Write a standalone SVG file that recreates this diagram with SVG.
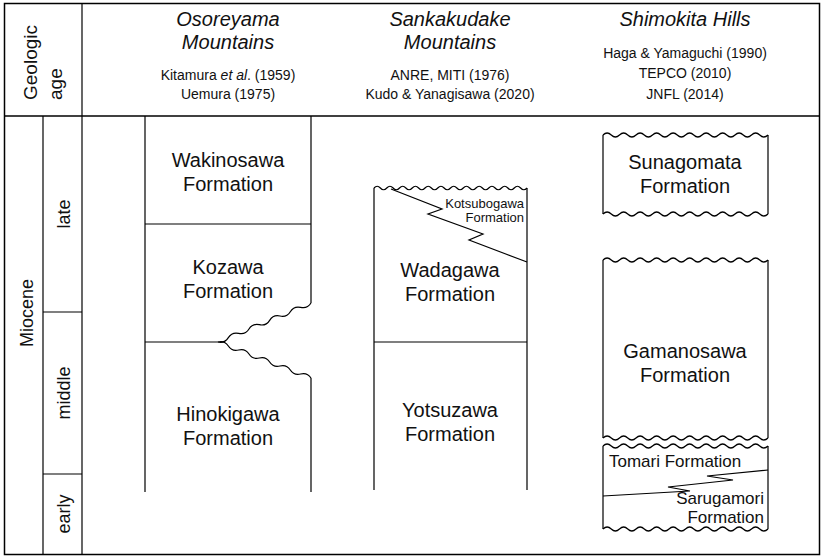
<svg xmlns="http://www.w3.org/2000/svg" width="822" height="559" viewBox="0 0 822 559">
<style>
.ln{stroke:#000;stroke-width:1.2;fill:none}
.fr{stroke:#000;stroke-width:1.5;fill:none}
text{font-family:"Liberation Sans",Arial,sans-serif;fill:#111}
.t{font-size:20px;text-anchor:middle}
.h{font-size:20px;font-style:italic;text-anchor:middle}
.r{font-size:14px;text-anchor:middle}
.s{font-size:17px}
.a{font-size:18px;text-anchor:middle}
</style>
<rect width="822" height="559" fill="#fff"/>
<g id="table">
<rect class="fr" x="4.5" y="3.5" width="815" height="551"/>
<line class="fr" x1="4.5" y1="116" x2="819.5" y2="116"/>
<line class="ln" x1="82" y1="3.5" x2="82" y2="554.5"/>
<line class="ln" x1="43" y1="116" x2="43" y2="554.5"/>
<line class="ln" x1="43" y1="312" x2="82" y2="312"/>
<line class="ln" x1="43" y1="474" x2="82" y2="474"/>
<text font-size="19" transform="translate(37,100) rotate(-90)">Geologic</text>
<text font-size="19" transform="translate(62,100) rotate(-90)">age</text>
<text class="a" transform="translate(33,313) rotate(-90)">Miocene</text>
<text class="a" transform="translate(70,214) rotate(-90)">late</text>
<text class="a" transform="translate(70,393) rotate(-90)">middle</text>
<text class="a" transform="translate(70,514) rotate(-90)">early</text>
</g>
<g id="header-osoreyama">
<text class="h" x="228" y="26">Osoreyama</text>
<text class="h" x="228" y="49">Mountains</text>
<text class="r" x="228" y="80">Kitamura <tspan font-style="italic">et al</tspan>. (1959)</text>
<text class="r" x="228" y="99">Uemura (1975)</text>
</g>
<g id="header-sankakudake">
<text class="h" x="450" y="26">Sankakudake</text>
<text class="h" x="450" y="49">Mountains</text>
<text class="r" x="450" y="80">ANRE, MITI (1976)</text>
<text class="r" x="450" y="99">Kudo &amp; Yanagisawa (2020)</text>
</g>
<g id="header-shimokita">
<text class="h" x="685" y="26">Shimokita Hills</text>
<text class="r" x="685" y="58">Haga &amp; Yamaguchi (1990)</text>
<text class="r" x="685" y="78">TEPCO (2010)</text>
<text class="r" x="685" y="99">JNFL (2014)</text>
</g>
<g id="connectors">
<!-- column 1 -->
<path class="ln" d="M145 116 V492 M311 116 V303 M311 378 V492 M145 224 H311 M145 342 H218"/>
<path class="ln" d="M218 342 q6.72 1.52 10.33 -4.33 t10.33 -4.33 t10.33 -4.33 t10.33 -4.33 t10.33 -4.33 t10.33 -4.33 t10.33 -4.33 t10.33 -4.33 t10.33 -4.33"/>
<path class="ln" d="M218 342 q6.61 -1.73 10.33 4 t10.33 4 t10.33 4 t10.33 4 t10.33 4 t10.33 4 t10.33 4 t10.33 4 t10.33 4"/>
<!-- column 2 -->
<path class="ln" d="M374 188 V490 M527 188 V490 M374 342 H527"/>
<path class="ln" d="M374 188 q3.19 -3.5 6.375 0 t6.375 0 t6.375 0 t6.375 0 t6.375 0 t6.375 0 t6.375 0 t6.375 0 t6.375 0 t6.375 0 t6.375 0 t6.375 0 t6.375 0 t6.375 0 t6.375 0 t6.375 0 t6.375 0 t6.375 0 t6.375 0 t6.375 0 t6.375 0 t6.375 0 t6.375 0 t6.375 0"/>
<path class="ln" d="M391 189 L442 209 L428 214 L483 234 L469 240 L527 262"/>
<!-- column 3 -->
<path class="ln" d="M603 135 V214 M768 135 V214 M603 260 V438 M768 260 V438 M603 446 V529 M768 446 V529"/>
<path id="w1" class="ln" d="M603 135 q4.125 -4 8.25 0 t8.25 0 t8.25 0 t8.25 0 t8.25 0 t8.25 0 t8.25 0 t8.25 0 t8.25 0 t8.25 0 t8.25 0 t8.25 0 t8.25 0 t8.25 0 t8.25 0 t8.25 0 t8.25 0 t8.25 0 t8.25 0 t8.25 0"/>
<use href="#w1" y="79"/>
<use href="#w1" y="125"/>
<use href="#w1" y="303"/>
<use href="#w1" y="311"/>
<use href="#w1" y="394"/>
<path class="ln" d="M603 496 L690 491 L668 487 L733 480 L707 476 L768 470"/>
</g>
<g id="wakinosawa"><text class="t" x="228" y="167">Wakinosawa</text><text class="t" x="228" y="191">Formation</text></g>
<g id="kozawa"><text class="t" x="228" y="274">Kozawa</text><text class="t" x="228" y="298">Formation</text></g>
<g id="hinokigawa"><text class="t" x="228" y="421">Hinokigawa</text><text class="t" x="228" y="445">Formation</text></g>
<g id="kotsubogawa"><text x="524" y="208" font-size="13" text-anchor="end">Kotsubogawa</text><text x="524" y="222" font-size="13" text-anchor="end">Formation</text></g>
<g id="wadagawa"><text class="t" x="450" y="277">Wadagawa</text><text class="t" x="450" y="301">Formation</text></g>
<g id="yotsuzawa"><text class="t" x="450" y="417">Yotsuzawa</text><text class="t" x="450" y="441">Formation</text></g>
<g id="sunagomata"><text class="t" x="685" y="169">Sunagomata</text><text class="t" x="685" y="193">Formation</text></g>
<g id="gamanosawa"><text class="t" x="685" y="358">Gamanosawa</text><text class="t" x="685" y="382">Formation</text></g>
<g id="tomari"><text class="s" x="609" y="467">Tomari Formation</text></g>
<g id="sarugamori"><text class="s" x="764" y="504" text-anchor="end">Sarugamori</text><text class="s" x="764" y="523" text-anchor="end">Formation</text></g>
</svg>
